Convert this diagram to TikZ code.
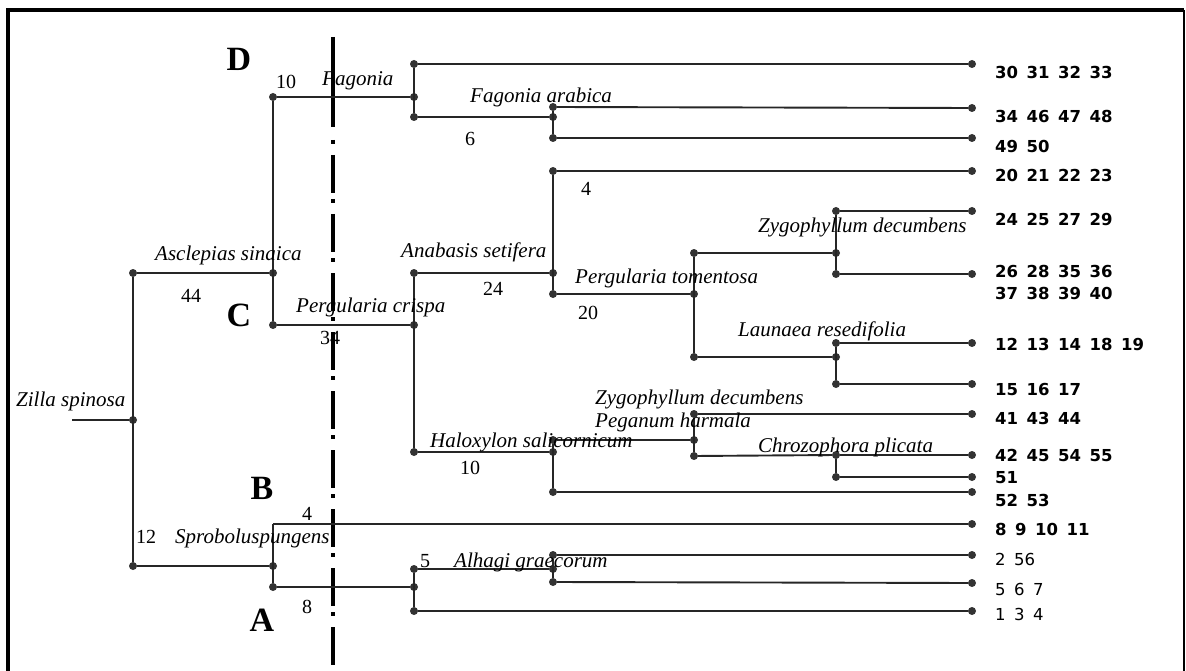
\documentclass[tikz,border=0pt]{standalone}
\usepackage{fontspec}
\setmainfont{Liberation Serif}
\newfontfamily\leaffont{DejaVu Sans}
\tikzset{
  x=1pt, y=-1pt,
  dot/.style={circle, fill=black!80, inner sep=0pt, minimum size=8pt},
  br/.style={line width=1.9pt, draw=black!85},
  taxon/.style={font=\fontsize{21}{21}\selectfont\itshape, inner sep=0pt, anchor=base west},
  num/.style={font=\fontsize{20}{20}\selectfont, inner sep=0pt},
  grp/.style={font=\fontsize{34}{34}\selectfont\bfseries, inner sep=0pt},
  leaf/.style={font=\leaffont\bfseries\fontsize{16.5}{16.5}\selectfont, inner sep=0pt, anchor=west},
  leafl/.style={font=\leaffont\fontsize{16.5}{16.5}\selectfont, inner sep=0pt, anchor=west},
}
\newcommand\gp{\hspace{8.5pt}}
\begin{document}
\begin{tikzpicture}
\useasboundingbox (0,0) rectangle (1186,671);
% frame
\draw[line width=4pt] (8,671) -- (8,10) -- (1184,10);
\draw[line width=2pt] (1184,10) -- (1184,671);
% dash-dot divider
\coordinate (v0) at (333,37);
\coordinate (v1) at (333,127);
\coordinate (v2) at (333,140);
\coordinate (v3) at (333,671);
\draw[line width=3.6pt] (v0) -- (v1);
\draw[line width=3.6pt, dash pattern=on 4pt off 11pt on 38pt off 6pt] (v2) -- (v3);

% tree nodes
\coordinate (z0) at (72,420);
\node[dot] (r) at (133,420) {};
\node[dot] (a1) at (133,273) {};
\node[dot] (a2) at (273,273) {};
\node[dot] (d0) at (273,97) {};
\node[dot] (d1) at (414,97) {};
\node[dot] (d1t) at (414,64) {};
\node[dot] (d1b) at (414,117) {};
\node[dot] (f1) at (553,117) {};
\node[dot] (f1t) at (553,107) {};
\node[dot] (f1b) at (553,138) {};
\node[dot] (c0) at (273,325) {};
\node[dot] (c1) at (414,325) {};
\node[dot] (an0) at (414,273) {};
\node[dot] (an1) at (553,273) {};
\node[dot] (an1t) at (553,171) {};
\node[dot] (an1b) at (553,294) {};
\node[dot] (pt) at (694,294) {};
\node[dot] (ptt) at (694,253) {};
\node[dot] (zy) at (836,253) {};
\node[dot] (zyt) at (836,211) {};
\node[dot] (zyb) at (836,274) {};
\node[dot] (ptb) at (694,357) {};
\node[dot] (la) at (836,357) {};
\node[dot] (lat) at (836,343) {};
\node[dot] (lab) at (836,384) {};
\node[dot] (h0) at (414,452) {};
\node[dot] (h1) at (553,452) {};
\node[dot] (h1t) at (553,440) {};
\node[dot] (pg) at (694,440) {};
\node[dot] (pgt) at (694,414) {};
\node[dot] (pgb) at (694,456) {};
\node[dot] (ch) at (836,455) {};
\node[dot] (chb) at (836,477) {};
\node[dot] (h1b) at (553,492) {};
\node[dot] (s0) at (133,566) {};
\node[dot] (s1) at (273,566) {};
\coordinate (s1t) at (273,524);
\node[dot] (s1b) at (273,587) {};
\node[dot] (al) at (414,587) {};
\node[dot] (alt) at (414,569) {};
\node[dot] (ag) at (553,569) {};
\node[dot] (agt) at (553,555) {};
\node[dot] (agb) at (553,582) {};
\node[dot] (alb) at (414,611) {};
% leaves
\node[dot] (L1) at (972,64) {};
\node[dot] (L2) at (972,108) {};
\node[dot] (L3) at (972,138) {};
\node[dot] (L4) at (972,171) {};
\node[dot] (L5) at (972,211) {};
\node[dot] (L6) at (972,274) {};
\node[dot] (L7) at (972,343) {};
\node[dot] (L8) at (972,384) {};
\node[dot] (L9) at (972,414) {};
\node[dot] (L10) at (972,455) {};
\node[dot] (L11) at (972,477) {};
\node[dot] (L12) at (972,492) {};
\node[dot] (L13) at (972,524) {};
\node[dot] (L14) at (972,555) {};
\node[dot] (L15) at (972,583) {};
\node[dot] (L16) at (972,611) {};

% branches
\draw[br] (z0) -- (r);
\draw[br] (a1) -- (s0);
\draw[br] (a1) -- (a2);
\draw[br] (d0) -- (c0);
\draw[br] (d0) -- (d1);
\draw[br] (d1t) -- (d1b);
\draw[br] (d1t) -- (L1);
\draw[br] (d1b) -- (f1);
\draw[br] (f1t) -- (f1b);
\draw[br] (f1t) -- (L2);
\draw[br] (f1b) -- (L3);
\draw[br] (c0) -- (c1);
\draw[br] (an0) -- (h0);
\draw[br] (an0) -- (an1);
\draw[br] (an1t) -- (an1b);
\draw[br] (an1t) -- (L4);
\draw[br] (an1b) -- (pt);
\draw[br] (ptt) -- (ptb);
\draw[br] (ptt) -- (zy);
\draw[br] (zyt) -- (zyb);
\draw[br] (zyt) -- (L5);
\draw[br] (zyb) -- (L6);
\draw[br] (ptb) -- (la);
\draw[br] (lat) -- (lab);
\draw[br] (lat) -- (L7);
\draw[br] (lab) -- (L8);
\draw[br] (h0) -- (h1);
\draw[br] (h1t) -- (h1b);
\draw[br] (h1t) -- (pg);
\draw[br] (pgt) -- (pgb);
\draw[br] (pgt) -- (L9);
\draw[br] (pgb) -- (ch);
\draw[br] (ch) -- (chb);
\draw[br] (ch) -- (L10);
\draw[br] (chb) -- (L11);
\draw[br] (h1b) -- (L12);
\draw[br] (s0) -- (s1);
\draw[br] (s1t) -- (s1b);
\draw[br] (s1t) -- (L13);
\draw[br] (s1b) -- (al);
\draw[br] (alt) -- (alb);
\draw[br] (alt) -- (ag);
\draw[br] (agt) -- (agb);
\draw[br] (agt) -- (L14);
\draw[br] (agb) -- (L15);
\draw[br] (alb) -- (L16);

% group letters
\node[grp] (gD) at (239,59) {D};
\node[grp] (gC) at (239,315) {C};
\node[grp] (gB) at (262,488) {B};
\node[grp] (gA) at (262,620) {A};

% taxon labels
\node[taxon] (t1) at (16,406) {Zilla spinosa};
\node[taxon] (t2) at (155,261) {Asclepias sinaica};
\node[taxon] (t3) at (322,86) {Fagonia};
\node[taxon] (t4) at (470,103) {Fagonia arabica};
\node[taxon] (t5) at (401,258) {Anabasis setifera};
\node[taxon] (t6) at (575,283) {Pergularia tomentosa};
\node[taxon] (t7) at (296,312) {Pergularia crispa};
\node[taxon] (t8) at (758,233) {Zygophyllum decumbens};
\node[taxon] (t9) at (738,336) {Launaea resedifolia};
\node[taxon] (t10) at (595,404) {Zygophyllum decumbens};
\node[taxon] (t11) at (595,427) {Peganum harmala};
\node[taxon] (t12) at (430,447) {Haloxylon salicornicum};
\node[taxon] (t13) at (758,452) {Chrozophora plicata};
\node[taxon] (t14) at (454,567) {Alhagi graecorum};
\node[taxon] (t15) at (175,543) {Sproboluspungens};

% branch numbers
\node[num] (n1) at (286,82) {10};
\node[num] (n2) at (191,296) {44};
\node[num] (n3) at (330,338) {34};
\node[num] (n4) at (470,139) {6};
\node[num] (n5) at (586,189) {4};
\node[num] (n6) at (493,289) {24};
\node[num] (n7) at (588,313) {20};
\node[num] (n8) at (470,468) {10};
\node[num] (n9) at (307,514) {4};
\node[num] (n10) at (146,537) {12};
\node[num] (n11) at (307,607) {8};
\node[num] (n12) at (425,561) {5};

% leaf labels
\node[leaf] (l1) at (995,72) {30\gp31\gp32\gp33};
\node[leaf] (l2) at (995,116) {34\gp46\gp47\gp48};
\node[leaf] (l3) at (995,146) {49\gp50};
\node[leaf] (l4) at (995,175) {20\gp21\gp22\gp23};
\node[leaf] (l5) at (995,219) {24\gp25\gp27\gp29};
\node[leaf] (l6) at (995,271) {26\gp28\gp35\gp36};
\node[leaf] (l6b) at (995,293) {37\gp38\gp39\gp40};
\node[leaf] (l7) at (995,344) {12\gp13\gp14\gp18\gp19};
\node[leaf] (l8) at (995,389) {15\gp16\gp17};
\node[leaf] (l9) at (995,418) {41\gp43\gp44};
\node[leaf] (l10) at (995,455) {42\gp45\gp54\gp55};
\node[leaf] (l11) at (995,478) {51};
\node[leaf] (l12) at (995,500) {52\gp53};
\node[leaf] (l13) at (995,529) {8\gp9\gp10\gp11};
\node[leafl] (l14) at (995,559) {2\gp56};
\node[leafl] (l15) at (995,589) {5\gp6\gp7};
\node[leafl] (l16) at (995,614) {1\gp3\gp4};
\end{tikzpicture}
\end{document}
